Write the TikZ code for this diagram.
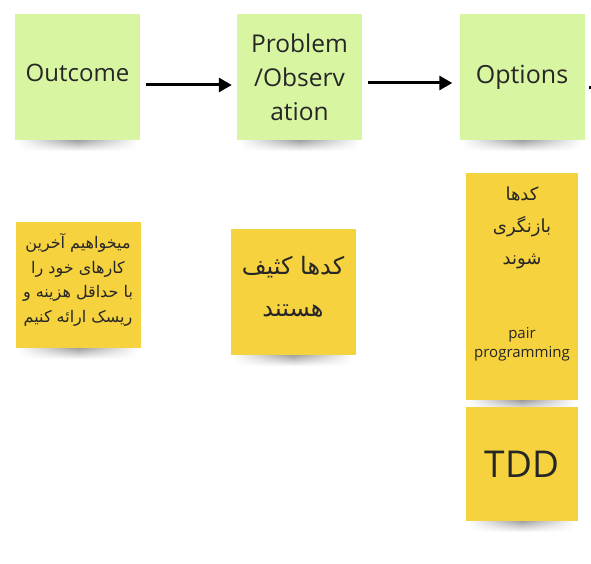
\documentclass[tikz,border=0pt]{standalone}
\usepackage{fontspec}
\setmainfont{Open Sans}
\newfontfamily\arabicfont[Script=Arabic]{DejaVu Sans}
\TeXXeTstate=1
\usetikzlibrary{positioning,arrows.meta,calc,backgrounds,fadings}

\definecolor{noteGreen}{HTML}{D8F5A2}
\definecolor{noteYellow}{HTML}{F6D23E}

\tikzfading[name=shadowfade, left color=transparent!100, right color=transparent!100, middle color=transparent!0]

\tikzset{
  note/.style={inner sep=0pt, align=center, text=black!85},
  greennote/.style={note, fill=noteGreen, minimum width=125pt, minimum height=126pt},
  yellownote/.style={note, fill=noteYellow, minimum width=125pt, minimum height=126pt},
  colnote/.style={note, fill=noteYellow, minimum width=112pt, minimum height=114pt},
  flow/.style={line width=3pt, -{Triangle[length=13pt,width=14pt]}},
}
\newcommand{\noteshadow}[1]{%
  \shade[top color=black!75, bottom color=white, opacity=.5, path fading=shadowfade]
    ($(#1.south west)+(3,0)$) rectangle ($(#1.south east)+(-3,11)$);}
\newcommand{\rtl}[1]{\beginR #1\endR}

\begin{document}
\begin{tikzpicture}[x=1pt, y=-1pt]
\useasboundingbox (0,0) rectangle (591,564);

% top row
\node[greennote, font=\fontsize{24}{34}\selectfont] (outcome) at (77.5,77) {Outcome\\[-26pt]\mbox{}};
\node[greennote, font=\fontsize{24.5}{34}\selectfont] (problem) at (299.5,77) {Problem\\/Observ\\ation};
\node[greennote, font=\fontsize{25}{34}\selectfont] (options) at (522,77) {Options\\[-28pt]\mbox{}};

\draw[flow] ([xshift=6pt,yshift=-8pt]outcome.east) -- ([xshift=-5pt,yshift=-8pt]problem.west);
\draw[flow] ([xshift=6pt,yshift=-6pt]problem.east) -- ([xshift=-7pt,yshift=-6pt]options.west);
\draw[line width=3pt] ([xshift=4pt,yshift=-11pt]options.east) -- ++(4,0);

% notes under each column
\node[yellownote, font=\arabicfont\fontsize{16}{24.5}\selectfont] (goal) at (78,285)
  {\rtl{میخواهیم آخرین}\\\rtl{کارهای خود را}\\\rtl{با حداقل هزینه و}\\\rtl{ریسک ارائه کنیم}\\[-10pt]\mbox{}};
\node[yellownote, font=\arabicfont\fontsize{24}{42}\selectfont] (dirty) at (293,292)
  {\rtl{کدها کثیف}\\\rtl{هستند}\\[-30pt]\mbox{}};

\node[colnote, font=\arabicfont\fontsize{18}{32}\selectfont] (review) at (522,230)
  {\rtl{کدها}\\\rtl{بازنگری}\\\rtl{شوند}\\[-24pt]\mbox{}};
\node[colnote, below=0pt of review, minimum height=113pt, font=\fontsize{15}{19}\selectfont] (pair)
  {pair\\programming};
\node[colnote, below=6pt of pair, font=\fontsize{37}{44}\selectfont] (tdd) {TDD};

\begin{scope}[on background layer]
  \foreach \n in {outcome,problem,options,goal,dirty,pair,tdd} {\noteshadow{\n}}
\end{scope}
\end{tikzpicture}
\end{document}
